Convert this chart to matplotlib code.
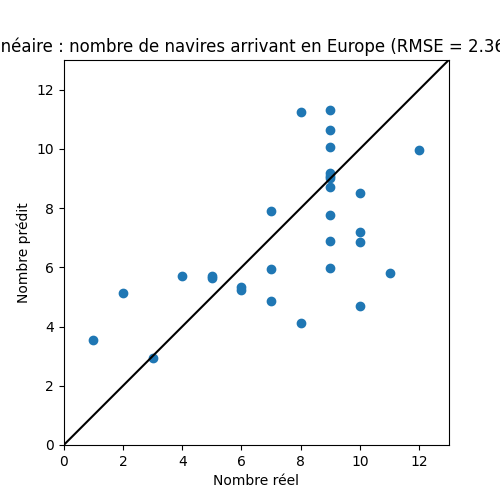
import matplotlib
matplotlib.use("Agg")
import matplotlib.pyplot as plt

reel = [1,2,3,4,5,5,6,6,7,7,7,8,8,9,9,9,9,9,9,9,9,9,9,10,10,10,10,11,12]
predit = [3.55,5.12,2.95,5.7,5.72,5.65,5.35,5.25,7.9,5.95,4.85,11.25,4.12,11.3,10.65,10.07,9.2,9.1,9.0,8.72,7.77,6.88,5.98,8.5,7.2,6.85,4.7,5.82,9.97]
rmse = "2.364415789372"

fig, ax = plt.subplots(figsize=(5,5), dpi=100)
ax.scatter(reel, predit)
ax.plot([0,13],[0,13], color='black')
ax.set_xlim(0,13)
ax.set_ylim(0,13)
ax.set_aspect('equal')
ax.set_xlabel("Nombre réel")
ax.set_ylabel("Nombre prédit")
ax.set_title(f"Régression linéaire : nombre de navires arrivant en Europe (RMSE = {rmse})")
fig.savefig("out.png")
